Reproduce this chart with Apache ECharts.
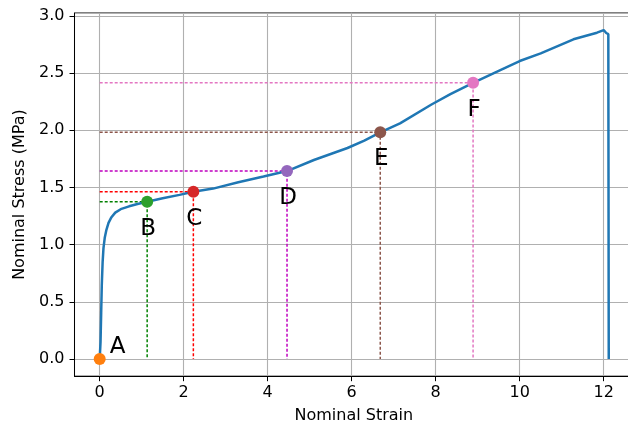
<!DOCTYPE html>
<html>
<head>
<meta charset="utf-8">
<script src="https://cdn.jsdelivr.net/npm/echarts@6/dist/echarts.min.js"></script>
<style>
html,body{margin:0;padding:0;background:#fff;}
#chart{width:628px;height:430px;}
</style>
</head>
<body>
<div id="chart"></div>
<script>
// Stress-strain curve
const strain = [0, 0.02, 0.035, 0.05, 0.07, 0.09, 0.12, 0.16, 0.21, 0.28, 0.37, 0.5, 0.7, 0.9, 1.13, 1.5, 1.9, 2.23, 2.7, 3.3, 3.9, 4.46, 5.1, 5.9, 6.3, 6.68, 7.15, 7.9, 8.35, 8.89, 9.5, 10.0, 10.5, 11.28, 11.84, 12.0, 12.06, 12.11, 12.12];
const stress = [0, 0.15, 0.4, 0.65, 0.85, 0.97, 1.06, 1.13, 1.19, 1.24, 1.28, 1.31, 1.335, 1.355, 1.375, 1.405, 1.435, 1.462, 1.49, 1.545, 1.595, 1.643, 1.74, 1.845, 1.91, 1.982, 2.06, 2.225, 2.316, 2.415, 2.52, 2.605, 2.672, 2.795, 2.853, 2.876, 2.85, 2.84, 0];

// Marked points
const pointNames = ['A', 'B', 'C', 'D', 'E', 'F'];
const pointX = [0, 1.13, 2.23, 4.46, 6.68, 8.89];
const pointY = [0, 1.375, 1.462, 1.643, 1.982, 2.415];
const pointColors = ['#ff7f0e', '#2ca02c', '#d62728', '#9467bd', '#8c564b', '#e377c2'];
const guideColors = [null, '#008000', '#ff0000', '#bf00bf', '#8c564b', '#e377c2'];

const FONT = 'DejaVu Sans';
const chart = echarts.init(document.getElementById('chart'), null, {renderer: 'canvas'});

const series = [];
for (let i = 0; i < pointNames.length; i++) {
  if (!guideColors[i]) continue;
  series.push({
    type: 'line',
    data: [[0, pointY[i]], [pointX[i], pointY[i]], [pointX[i], 0]],
    symbol: 'none',
    silent: true,
    z: 2,
    lineStyle: {color: guideColors[i], width: 1.5, type: [3, 2]}
  });
}
series.push({
  type: 'line',
  data: strain.map((x, i) => [x, stress[i]]),
  symbol: 'none',
  z: 3,
  lineStyle: {color: '#1f77b4', width: 2.5}
});
series.push({
  type: 'scatter',
  z: 4,
  symbolSize: 12,
  data: pointNames.map((n, i) => ({
    value: [pointX[i], pointY[i]],
    name: n,
    itemStyle: {color: pointColors[i], opacity: 1},
    label: i === 0 ? {offset: [18, -12]} : {offset: [1, 27]}
  })),
  label: {
    show: true,
    position: 'inside',
    formatter: p => p.name,
    color: '#000',
    fontFamily: FONT,
    fontSize: 23,
    align: 'center',
    verticalAlign: 'middle'
  }
});

chart.setOption({
  animation: false,
  backgroundColor: '#fff',
  grid: {left: 74.5, top: 13, width: 558.6, height: 363.2, outerBoundsMode: 'none', containLabel: false, show: true, borderColor: '#000', borderWidth: 1, backgroundColor: 'transparent'},
  xAxis: {
    type: 'value', min: -0.6, max: 12.7, splitNumber: 6,
    name: 'Nominal Strain', nameLocation: 'middle', nameGap: 32,
    nameTextStyle: {fontFamily: FONT, fontSize: 16, color: '#000'},
    axisLine: {show: true, onZero: false, lineStyle: {color: '#000', width: 1}},
    axisTick: {show: true, inside: false, length: 5, lineStyle: {color: '#000', width: 1}},
    axisLabel: {fontFamily: FONT, fontSize: 16, color: '#000', margin: 9, showMinLabel: false, showMaxLabel: false},
    splitLine: {show: true, lineStyle: {color: '#b0b0b0', width: 1.1}}
  },
  yAxis: {
    type: 'value', min: -0.15, max: 3.025, splitNumber: 6,
    name: 'Nominal Stress (MPa)', nameLocation: 'middle', nameGap: 44,
    nameTextStyle: {fontFamily: FONT, fontSize: 16, color: '#000'},
    axisLine: {show: true, onZero: false, lineStyle: {color: '#000', width: 1}},
    axisTick: {show: true, inside: false, length: 5, lineStyle: {color: '#000', width: 1}},
    axisLabel: {fontFamily: FONT, fontSize: 16, color: '#000', margin: 10, showMinLabel: false, showMaxLabel: false, formatter: v => v.toFixed(1)},
    splitLine: {show: true, lineStyle: {color: '#b0b0b0', width: 1.1}}
  },
  series: series
});
</script>
</body>
</html>
